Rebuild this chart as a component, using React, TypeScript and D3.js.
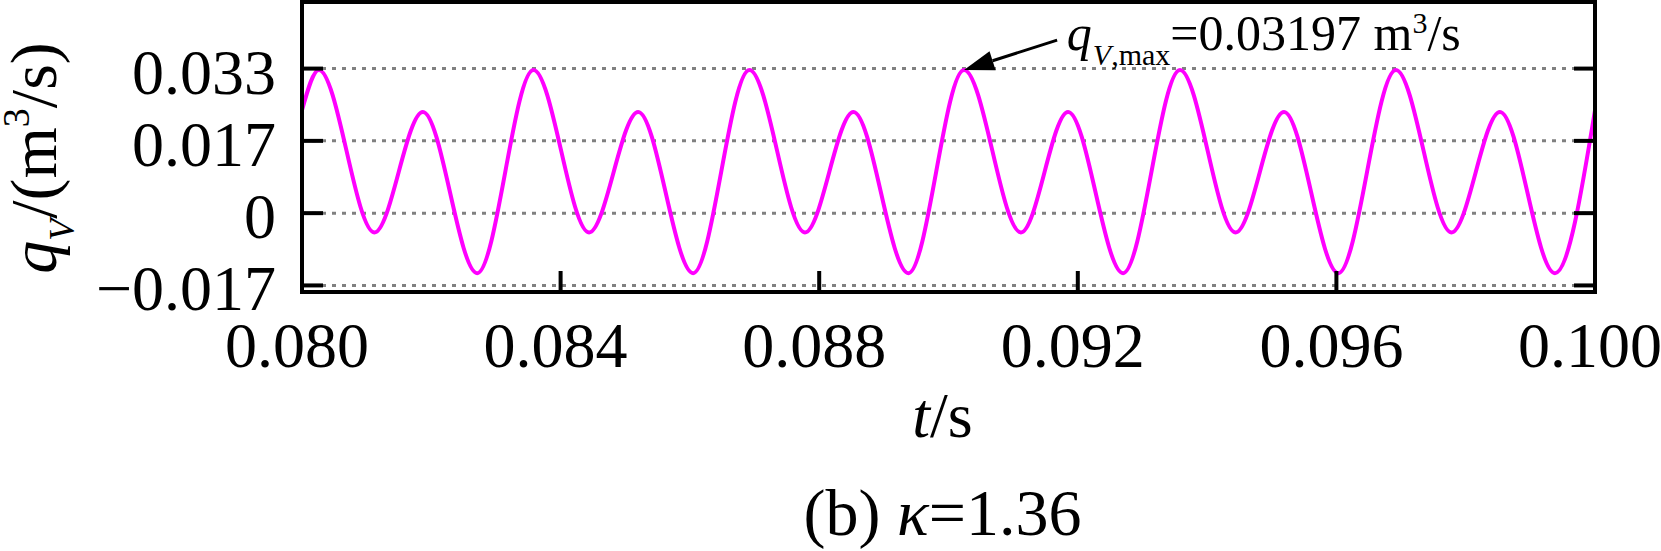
import React, { useRef, useEffect } from "react";
import * as d3 from "d3";

// extrema of q_V (t in s, q_V in m^3/s)
const timeS = [
  0.08, 0.08026, 0.08112, 0.08187, 0.08271, 0.08358, 0.08444, 0.0852, 0.08605,
  0.08692, 0.08778, 0.08853, 0.08938, 0.09024, 0.09112, 0.09185, 0.0927,
  0.09358, 0.09444, 0.09519, 0.09603, 0.09692, 0.09778, 0.09853, 0.09938, 0.1,
];
const flowRate = [
  0.0235, 0.0327, -0.0044, 0.0231, -0.0137, 0.0327, -0.0044, 0.0231, -0.0137,
  0.0327, -0.0044, 0.0231, -0.0137, 0.0327, -0.0044, 0.0231, -0.0137, 0.0327,
  -0.0044, 0.0231, -0.0137, 0.0327, -0.0044, 0.0231, -0.0137, 0.0235,
];

const xTickValues = [0.08, 0.084, 0.088, 0.092, 0.096, 0.1];
const yTickValues = [-0.0165, 0, 0.0165, 0.033];
const yTickLabels = ["\u22120.017", "0", "0.017", "0.033"];

// annotation of the maximum
const arrowFrom: [number, number] = [0.09168, 0.0395];
const arrowTo: [number, number] = [0.09024, 0.0327];
const noteAt: [number, number] = [0.09183, 0.0372];
const noteValue = "=0.03197 m";

const FONT = "'Liberation Serif', 'Times New Roman', serif";

function drawChart(divElement: HTMLDivElement) {
  const totalWidth = 1661;
  const totalHeight = 551;
  const margin = { top: 2, right: 66, bottom: 259, left: 302 };

  const x = d3
    .scaleLinear()
    .domain([0.08, 0.1])
    .range([margin.left, totalWidth - margin.right]);
  const y = d3
    .scaleLinear()
    .domain([-0.018, 0.0482])
    .range([totalHeight - margin.bottom, margin.top]);

  d3.select(divElement).selectAll("*").remove();
  const svg = d3
    .select(divElement)
    .append("svg")
    .attr("width", totalWidth)
    .attr("height", totalHeight)
    .style("display", "block")
    .style("font-family", FONT);

  const [x0, x1] = x.range();
  const [y0, y1] = y.range();

  // dotted grid
  svg
    .selectAll(".grid")
    .data(yTickValues)
    .enter()
    .append("line")
    .attr("x1", x0)
    .attr("x2", x1)
    .attr("y1", (d) => y(d))
    .attr("y2", (d) => y(d))
    .attr("stroke", "#808080")
    .attr("stroke-width", 3)
    .attr("stroke-dasharray", "4 6");

  // the series
  const points: [number, number][] = timeS.map((t, i) => [t, flowRate[i]]);
  const line = d3
    .line<[number, number]>()
    .x((d) => x(d[0]))
    .y((d) => y(d[1]))
    .curve(d3.curveMonotoneX);
  svg
    .append("path")
    .attr("d", line(points))
    .attr("fill", "none")
    .attr("stroke", "#ff00ff")
    .attr("stroke-width", 4);

  const tickLen = 21;
  // y ticks left and right, inward
  svg
    .selectAll(".ytl")
    .data(yTickValues)
    .enter()
    .append("line")
    .attr("x1", x0)
    .attr("x2", x0 + tickLen)
    .attr("y1", (d) => y(d))
    .attr("y2", (d) => y(d))
    .attr("stroke", "#000")
    .attr("stroke-width", 4);
  svg
    .selectAll(".ytr")
    .data(yTickValues)
    .enter()
    .append("line")
    .attr("x1", x1 - tickLen)
    .attr("x2", x1)
    .attr("y1", (d) => y(d))
    .attr("y2", (d) => y(d))
    .attr("stroke", "#000")
    .attr("stroke-width", 4);
  // x ticks at the bottom, inward
  svg
    .selectAll(".xt")
    .data(xTickValues)
    .enter()
    .append("line")
    .attr("x1", (d) => x(d))
    .attr("x2", (d) => x(d))
    .attr("y1", y0)
    .attr("y2", y0 - tickLen)
    .attr("stroke", "#000")
    .attr("stroke-width", 4);

  // frame
  svg
    .append("rect")
    .attr("x", x0)
    .attr("y", y1)
    .attr("width", x1 - x0)
    .attr("height", y0 - y1)
    .attr("fill", "none")
    .attr("stroke", "#000")
    .attr("stroke-width", 4);

  // tick labels
  svg
    .selectAll(".ylab")
    .data(yTickValues)
    .enter()
    .append("text")
    .attr("x", x0 - 26)
    .attr("y", (d) => y(d) + 25)
    .attr("text-anchor", "end")
    .attr("font-size", 64)
    .text((d, i) => yTickLabels[i]);
  svg
    .selectAll(".xlab")
    .data(xTickValues)
    .enter()
    .append("text")
    .attr("x", (d) => x(d) - 5)
    .attr("y", 367)
    .attr("text-anchor", "middle")
    .attr("font-size", 64)
    .text((d) => d3.format(".3f")(d));

  // axis titles
  const xTitle = svg
    .append("text")
    .attr("x", (x0 + x1) / 2 - 6)
    .attr("y", 437)
    .attr("text-anchor", "middle")
    .attr("font-size", 64);
  xTitle.append("tspan").attr("font-style", "italic").text("t");
  xTitle.append("tspan").text("/s");

  const yTitle = svg
    .append("text")
    .attr("transform", "translate(56,158) rotate(-90)")
    .attr("text-anchor", "middle")
    .attr("font-size", 66);
  yTitle.append("tspan").attr("font-style", "italic").text("q");
  yTitle
    .append("tspan")
    .attr("font-style", "italic")
    .attr("font-size", 36)
    .attr("dy", 18)
    .text("V");
  yTitle.append("tspan").attr("dy", -18).text("/(m");
  yTitle.append("tspan").attr("font-size", 38).attr("dy", -27).text("3");
  yTitle.append("tspan").attr("dy", 27).text("/s)");

  // caption
  const caption = svg
    .append("text")
    .attr("x", (x0 + x1) / 2 - 6)
    .attr("y", 535)
    .attr("text-anchor", "middle")
    .attr("font-size", 66);
  caption.append("tspan").text("(b) ");
  caption.append("tspan").attr("font-style", "italic").text("\u03ba");
  caption.append("tspan").text("=1.36");

  // annotation arrow
  const fx = x(arrowFrom[0]);
  const fy = y(arrowFrom[1]);
  const tx = x(arrowTo[0]);
  const ty = y(arrowTo[1]);
  const len = Math.hypot(fx - tx, fy - ty);
  const ux = (fx - tx) / len;
  const uy = (fy - ty) / len;
  const headLen = 30;
  const headHalf = 10;
  const bx = tx + ux * headLen;
  const by = ty + uy * headLen;
  svg
    .append("line")
    .attr("x1", fx)
    .attr("y1", fy)
    .attr("x2", bx)
    .attr("y2", by)
    .attr("stroke", "#000")
    .attr("stroke-width", 3);
  svg
    .append("path")
    .attr(
      "d",
      `M${tx},${ty}L${bx - uy * headHalf},${by + ux * headHalf}L${bx + uy * headHalf},${by - ux * headHalf}Z`
    )
    .attr("fill", "#000");

  const note = svg
    .append("text")
    .attr("x", x(noteAt[0]))
    .attr("y", y(noteAt[1]))
    .attr("font-size", 50);
  note.append("tspan").attr("font-style", "italic").text("q");
  note
    .append("tspan")
    .attr("font-style", "italic")
    .attr("font-size", 30)
    .attr("dx", 1)
    .attr("dy", 15)
    .text("V");
  note.append("tspan").attr("font-size", 30).text(",max");
  note.append("tspan").attr("dy", -15).text(noteValue);
  note.append("tspan").attr("font-size", 30).attr("dy", -17).text("3");
  note.append("tspan").attr("dy", 17).text("/s");
}

const App: React.FunctionComponent = function () {
  const chartRef = useRef<HTMLDivElement>(null);

  useEffect(() => {
    if (chartRef.current == null) {
      return;
    }
    drawChart(chartRef.current);
  }, []);

  return (
    <div
      ref={chartRef}
      style={{ position: "absolute", left: 0, top: 0, background: "#fff" }}
    ></div>
  );
};

export default App;
